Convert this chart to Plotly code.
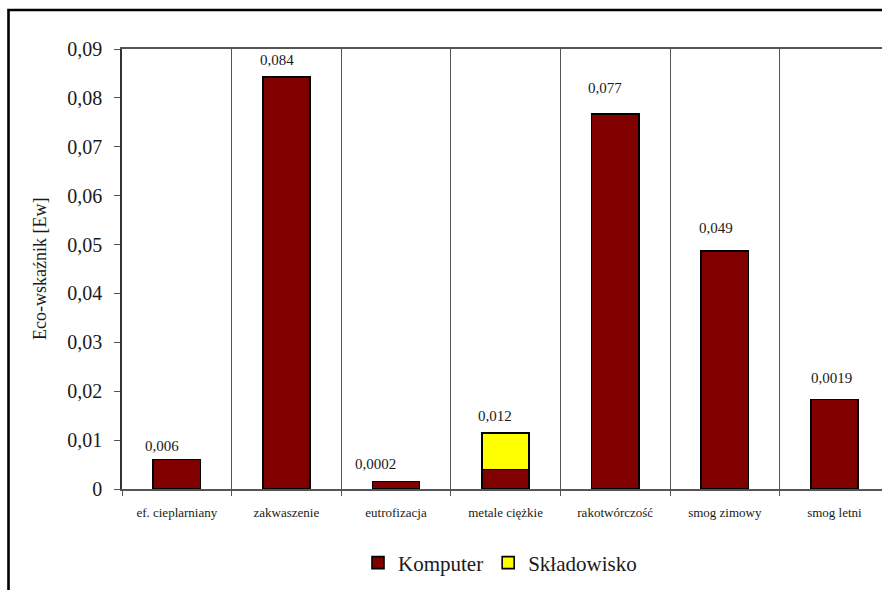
import plotly.graph_objects as go

# Environmental impact categories and eco-indicator values [Ew]
categories = ["ef. cieplarniany", "zakwaszenie", "eutrofizacja", "metale ciężkie",
              "rakotwórczość", "smog zimowy", "smog letni"]
komputer = [0.0060, 0.0843, 0.00155, 0.0040, 0.0767, 0.0487, 0.0183]
skladowisko = [0.0, 0.0, 0.0, 0.0075, 0.0, 0.0, 0.0]
value_labels = ["0,006", "0,084", "0,0002", "0,012", "0,077", "0,049", "0,0019"]
y_ticks = [0, 0.01, 0.02, 0.03, 0.04, 0.05, 0.06, 0.07, 0.08, 0.09]

# label placement tweaks (pixels)
label_dx = [-15, -9, -21, -11, -10, -9, -3]
label_dy = [14, 17, 17, 17, 26, 23, 22]

FONT = "Liberation Serif"
W, H = 882, 590
L, R, T, B = 122, 0, 49, 101
pw, ph = W - L - R, H - T - B
step_px = 109.6  # width of one category in pixels

x = list(range(len(categories)))
fig = go.Figure()
fig.add_trace(go.Bar(
    x=x, y=komputer, name="Komputer", width=0.43,
    marker=dict(color="#800000", line=dict(color="black", width=1.6)),
))
fig.add_trace(go.Bar(
    x=x, y=skladowisko, name="Składowisko", width=0.43,
    marker=dict(color="#FFFF00", line=dict(color="black", width=1.6)),
))

totals = [a + b for a, b in zip(komputer, skladowisko)]
for i, (t, txt) in enumerate(zip(totals, value_labels)):
    fig.add_annotation(
        x=i, y=t, text=txt, showarrow=False, xanchor="center", yanchor="middle",
        xshift=label_dx[i], yshift=label_dy[i],
        font=dict(family=FONT, size=15, color="#1a1a1a"),
        bgcolor="white", borderpad=1,
    )

# y-axis title
fig.add_annotation(
    xref="paper", yref="paper", x=(40 - L) / pw, y=0.5,
    text="Eco-wskaźnik [Ew]", textangle=-90, showarrow=False,
    xanchor="center", yanchor="middle",
    font=dict(family=FONT, size=18, color="#1a1a1a"),
)

# outer frame of the chart
fig.add_shape(
    type="rect", xref="paper", yref="paper",
    x0=(8.5 - L) / pw, x1=(W + 20 - L) / pw,
    y0=-(H + 20 - (H - B)) / ph, y1=((H - B) - 10) / ph,
    line=dict(color="black", width=2.6), fillcolor="rgba(0,0,0,0)", layer="above",
)

x_max = -0.5 + pw / step_px
fig.update_layout(
    width=W, height=H,
    margin=dict(l=L, r=R, t=T, b=B, pad=0),
    paper_bgcolor="white", plot_bgcolor="white",
    barmode="stack", separators=", ",
    font=dict(family=FONT, color="#1a1a1a"),
    showlegend=True,
    legend=dict(
        orientation="h", traceorder="normal",
        x=(500 - L) / pw, xanchor="center",
        y=-(563 - (H - B)) / ph, yanchor="middle",
        font=dict(family=FONT, size=21, color="#1a1a1a"),
        itemwidth=30, bgcolor="rgba(0,0,0,0)",
    ),
    xaxis=dict(
        range=[-0.5, x_max], tickmode="array", tickvals=x, ticktext=categories,
        ticks="", showgrid=False, zeroline=False,
        showline=True, linecolor="#555555", linewidth=1.6, mirror=True,
        tickfont=dict(family=FONT, size=13, color="#1a1a1a"),
        ticklabelstandoff=11,
        minor=dict(tickmode="linear", tick0=0.5, dtick=1, showgrid=True,
                   gridcolor="#555555", gridwidth=1.3,
                   ticks="outside", ticklen=5, tickcolor="#555555", tickwidth=1.3),
    ),
    yaxis=dict(
        range=[0, 0.09], tickmode="array", tickvals=y_ticks,
        ticks="outside", ticklen=6, tickcolor="#555555", tickwidth=1.3,
        showgrid=False, zeroline=False,
        showline=True, linecolor="#333333", linewidth=1.6,
        tickfont=dict(family=FONT, size=20, color="#1a1a1a"),
        ticklabelstandoff=8,
    ),
)

fig.write_html("out.html")
